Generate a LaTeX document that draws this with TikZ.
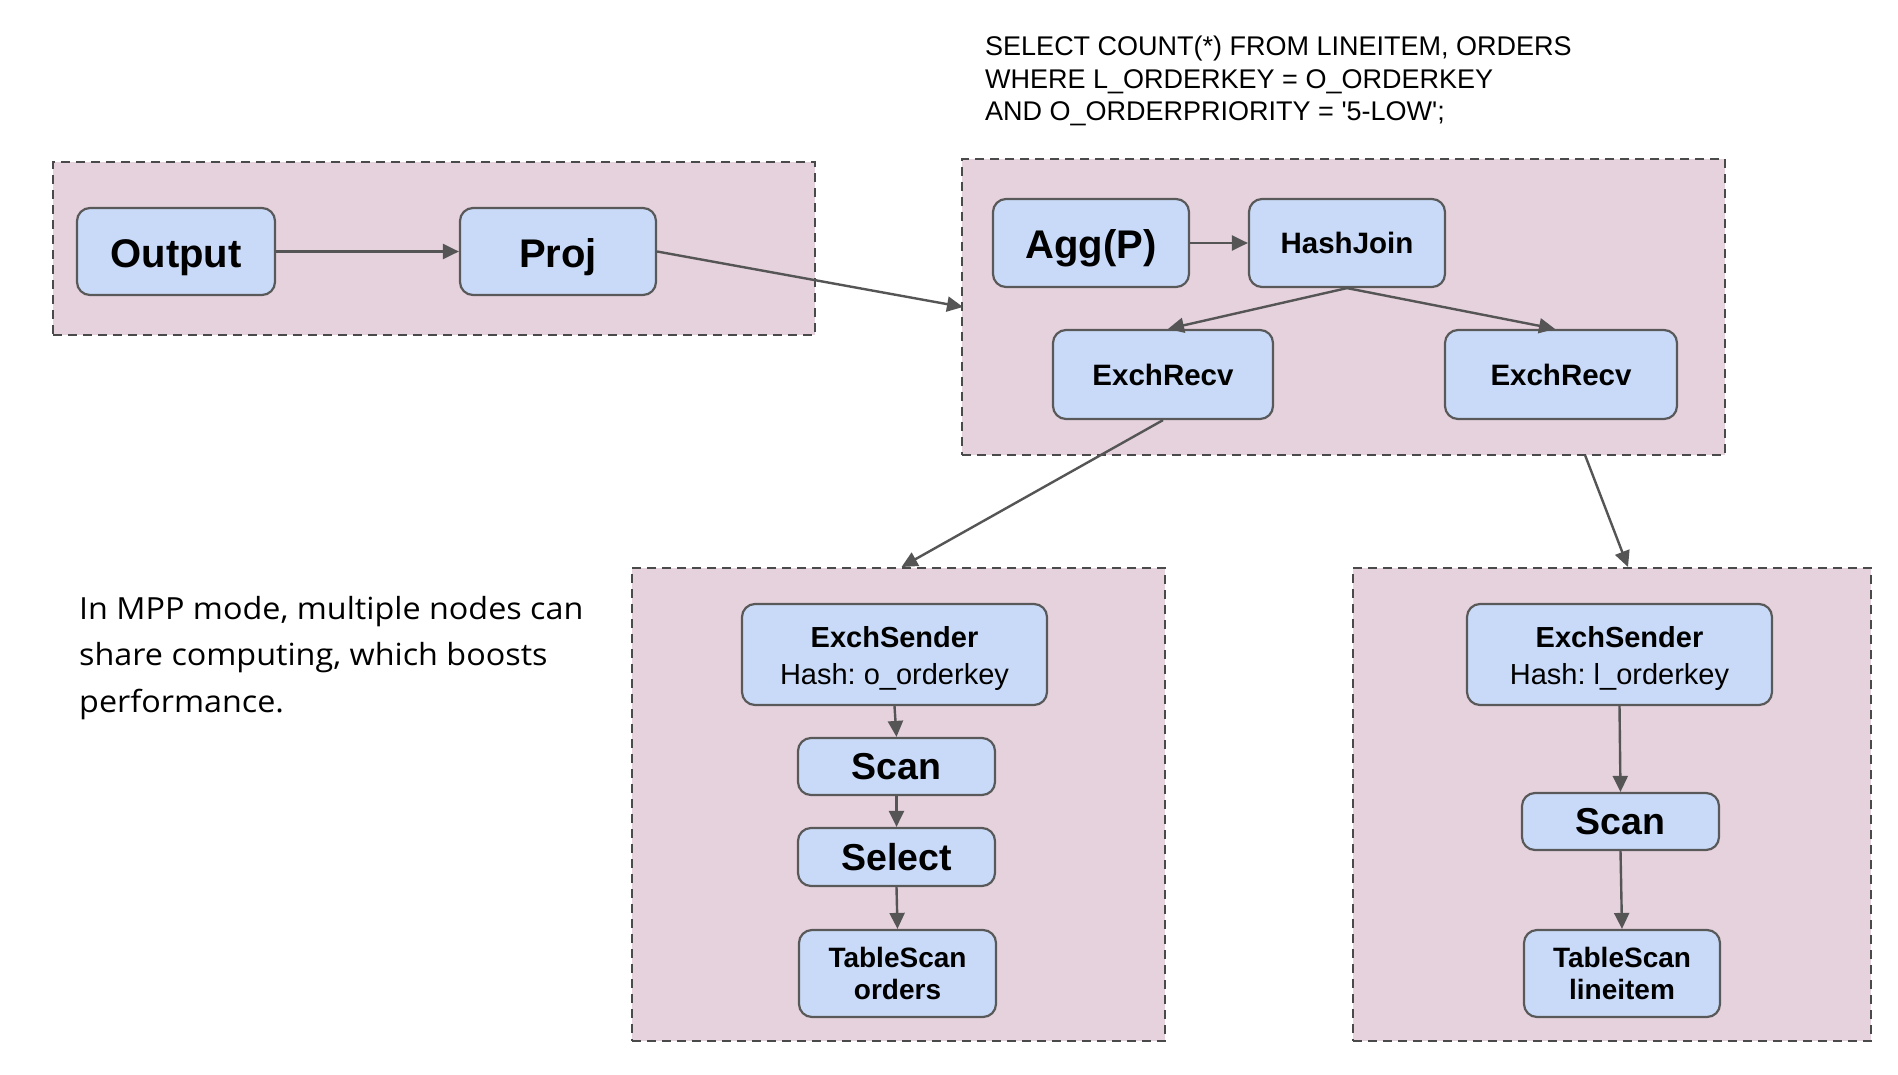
\documentclass[tikz,border=0pt]{standalone}
\usepackage{fontspec}
\setmainfont{Liberation Sans}
\newfontfamily\sqlfont{Liberation Sans}
\newfontfamily\parafont[FakeStretch=1.06]{Open Sans}
\usetikzlibrary{arrows.meta}
\definecolor{boxfill}{HTML}{C9DAF8}
\definecolor{boxline}{HTML}{595959}
\definecolor{grpfill}{HTML}{E6D2DD}
\definecolor{grpline}{HTML}{4A4A4A}
\definecolor{arrcol}{HTML}{555555}
\tikzset{
  opbox/.style={draw=boxline, fill=boxfill, line width=2.2pt, rounded corners=13pt,
    inner sep=0pt, align=center, font=\bfseries},
  grpbox/.style={draw=grpline, fill=grpfill, line width=2pt, dash pattern=on 9pt off 6pt,
    inner sep=0pt},
  flow/.style={draw=arrcol, line width=2.4pt, -{Triangle[length=16pt,width=15pt]}},
  bigtxt/.style={font=\fontsize{40}{44}\selectfont\bfseries},
  midtxt/.style={font=\fontsize{29.5}{33}\selectfont\bfseries},
  scantxt/.style={font=\fontsize{37.5}{41}\selectfont\bfseries},
  twotxt/.style={font=\fontsize{28}{32}\selectfont\bfseries},
  sendtxt/.style={font=\fontsize{29}{37}\selectfont},
}
\begin{document}
\frenchspacing
\begin{tikzpicture}[x=1pt,y=-1pt]
\useasboundingbox (0,0) rectangle (1898,1074);
\fill[white] (0,0) rectangle (1898,1074);

% group boxes
\node[grpbox, minimum width=762pt, minimum height=173pt] (g1) at (434,248.5) {};
\node[grpbox, minimum width=763pt, minimum height=296pt] (g2) at (1343.5,307) {};
\node[grpbox, minimum width=533pt, minimum height=473pt] (g3) at (898.5,804.5) {};
\node[grpbox, minimum width=518pt, minimum height=473pt] (g4) at (1612,804.5) {};

% SQL text
\node[anchor=north west, align=left, inner sep=0pt,
  font=\sqlfont\fontsize{27}{32.5}\selectfont] (sql) at (985,36)
  {SELECT COUNT(*) FROM LINEITEM, ORDERS\\
   WHERE L\_ORDERKEY = O\_ORDERKEY\\
   AND O\_ORDERPRIORITY = '5-LOW';};

% paragraph
\node[anchor=north west, align=left, inner sep=0pt,
  font=\parafont\fontsize{30.5}{46.5}\selectfont] (para) at (79,596)
  {In MPP mode, multiple nodes can\\
   share computing, which boosts\\
   performance.};

% top-left group
\node[opbox, bigtxt, minimum width=198pt, minimum height=87pt] (out) at (176,251.5) {\smash{\raisebox{-16pt}{Output}}};
\node[opbox, bigtxt, minimum width=196pt, minimum height=87pt] (proj) at (558,251.5) {\smash{\raisebox{-16pt}{Proj}}};

% top-right group
\node[opbox, bigtxt, minimum width=196pt, minimum height=88pt] (agg) at (1091,243) {\smash{\raisebox{-15pt}{Agg(P)}}};
\node[opbox, midtxt, minimum width=196pt, minimum height=88pt] (hj) at (1347,243) {HashJoin};
\node[opbox, midtxt, minimum width=220pt, minimum height=89pt] (erl) at (1163,374.5) {ExchRecv};
\node[opbox, midtxt, minimum width=232pt, minimum height=89pt] (err) at (1561,374.5) {ExchRecv};

% bottom-left group
\node[opbox, sendtxt, minimum width=305pt, minimum height=101pt] (esl) at (894.5,654.5)
  {\rule{0pt}{29pt}\textbf{ExchSender}\\Hash: o\_orderkey};
\node[opbox, scantxt, minimum width=197pt, minimum height=57pt] (scl) at (896.5,766.5) {Scan};
\node[opbox, scantxt, minimum width=197pt, minimum height=58pt] (sel) at (896.5,857) {Select};
\node[opbox, twotxt, minimum width=197pt, minimum height=87pt] (tso) at (897.5,973.5)
  {TableScan\\orders};

% bottom-right group
\node[opbox, sendtxt, minimum width=305pt, minimum height=101pt] (esr) at (1619.5,654.5)
  {\rule{0pt}{29pt}\textbf{ExchSender}\\Hash: l\_orderkey};
\node[opbox, scantxt, minimum width=197pt, minimum height=57pt] (scr) at (1620.5,821.5) {Scan};
\node[opbox, twotxt, minimum width=196pt, minimum height=87pt] (tsl) at (1622,973.5)
  {TableScan\\lineitem};

% helper coordinates
\coordinate (g2in) at (963,307);
\coordinate (g2out) at (1585,455);
\coordinate (g4in) at (1628,567);

% connectors
\draw[flow] (out.east) -- (proj.west);
\draw[flow] (proj.east) -- (g2in);
\draw[flow] (agg.east) -- (hj.west);
\draw[flow] (hj.south) -- ([xshift=5pt]erl.north);
\draw[flow] (hj.south) -- ([xshift=-6pt]err.north);
\draw[flow] (erl.south) -- ([xshift=3pt]g3.north);
\draw[flow] (g2out) -- (g4in);
\draw[flow] (esl.south) -- (scl.north);
\draw[flow] (scl.south) -- (sel.north);
\draw[flow] (sel.south) -- (tso.north);
\draw[flow] (esr.south) -- (scr.north);
\draw[flow] (scr.south) -- (tsl.north);
\end{tikzpicture}
\end{document}
